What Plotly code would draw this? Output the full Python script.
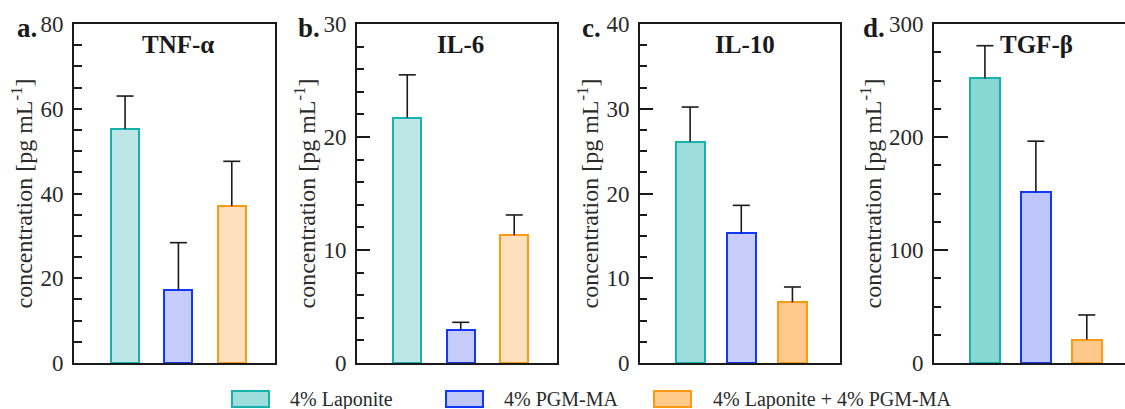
import plotly.graph_objects as go

# Cytokine release for three hydrogel formulations
groups = ["4% Laponite", "4% PGM-MA", "4% Laponite + 4% PGM-MA"]
cytokines = ["TNF-α", "IL-6", "IL-10", "TGF-β"]
panel_tags = ["a.", "b.", "c.", "d."]

tnf_mean = [55.2, 17.2, 37.0]
tnf_sd = [7.8, 11.2, 10.6]
il6_mean = [21.7, 2.95, 11.3]
il6_sd = [3.8, 0.65, 1.8]
il10_mean = [26.1, 15.35, 7.17]
il10_sd = [4.1, 3.25, 1.8]
tgf_mean = [251.8, 150.9, 20.7]
tgf_sd = [29.0, 45.4, 21.8]

means = [tnf_mean, il6_mean, il10_mean, tgf_mean]
sds = [tnf_sd, il6_sd, il10_sd, tgf_sd]

# axis scales
y_max = [80, 30, 40, 300]
y_major = [20, 10, 10, 100]
y_minor = [5, 2, 2.5, 25]

edge_colors = ["#17b2ad", "#1238ff", "#ff9914"]
fill_sets = [
    ["#bde6e6", "#c5ccf9", "#fee0bf"],
    ["#bde6e6", "#c5ccf9", "#fee0bf"],
    ["#9cdddb", "#c6cef9", "#fec98b"],
    ["#87d8d4", "#bdc7fa", "#fec98b"],
]
legend_fills = ["#9cdedc", "#c0c8f8", "#fecb8a"]

W, H = 1125, 409
FONT = "Liberation Serif"
INK = "#1a1a1a"

# panel geometry in pixels
x_dom_px = [(74, 275), (357, 557), (640, 840), (934, 1125)]
x_ranges = [(-0.957, 2.81), (-0.94, 2.80), (-0.98, 2.93), (-1.0, 2.75)]
bar_w = [0.525, 0.53, 0.57, 0.59]
y_top_px, y_bot_px = 24, 363
major_len = [8, 13, 13, 14]
minor_len = [8, 7, 7, 7]
title_cx = [178, 460, 745, 1036]
tag_x = [15, 296, 580, 861]

fig = go.Figure()
xpos = [0, 1, 2]

for p in range(4):
    sfx = "" if p == 0 else str(p + 1)
    xa, ya = "x" + sfx, "y" + sfx
    fig.add_trace(go.Bar(
        x=xpos, y=means[p], width=bar_w[p],
        marker=dict(color=fill_sets[p], line=dict(color=edge_colors, width=2)),
        xaxis=xa, yaxis=ya, showlegend=False,
    ))
    # upper error whiskers
    x0, x1 = x_ranges[p]
    px_per_unit = (x_dom_px[p][1] - x_dom_px[p][0]) / (x1 - x0)
    cap = 8.5 / px_per_unit
    ex, ey = [], []
    for i, (m, s) in enumerate(zip(means[p], sds[p])):
        ex += [i, i, None, i - cap, i + cap, None]
        ey += [m, m + s, None, m + s, m + s, None]
    fig.add_trace(go.Scatter(
        x=ex, y=ey, mode="lines", line=dict(color=INK, width=1.6),
        xaxis=xa, yaxis=ya, showlegend=False, hoverinfo="skip",
    ))

    dom_x = [x_dom_px[p][0] / W, x_dom_px[p][1] / W]
    dom_y = [1 - y_bot_px / H, 1 - y_top_px / H]
    fig.update_layout(**{
        "xaxis" + sfx: dict(
            domain=dom_x, range=list(x_ranges[p]), showticklabels=False,
            ticks="", showgrid=False, zeroline=False, showline=True,
            linecolor=INK, linewidth=1.6, mirror=True, anchor=ya,
            automargin=False,
        ),
        "yaxis" + sfx: dict(
            domain=dom_y, range=[0, y_max[p]], dtick=y_major[p], tick0=0,
            ticks="inside", ticklen=major_len[p], tickwidth=1.5, tickcolor=INK,
            minor=dict(dtick=y_minor[p], tick0=0, ticks="inside",
                       ticklen=minor_len[p], tickwidth=1.5, tickcolor=INK,
                       showgrid=False),
            showgrid=False, zeroline=False, showline=True, linecolor=INK,
            linewidth=1.6, mirror=(p < 3), anchor=xa, automargin=False,
            tickfont=dict(family=FONT, size=23, color="#2a2a2a"),
            ticklabelstandoff=4,
            title=dict(text="concentration [pg mL<sup>-1</sup>]",
                       font=dict(family=FONT, size=24, color="#2a2a2a"),
                       standoff=1),
        ),
    })

    fig.add_annotation(
        text="<b>%s</b>" % cytokines[p], x=title_cx[p] / W, y=1 - 44 / H,
        xref="paper", yref="paper", showarrow=False, xanchor="center",
        yanchor="middle", font=dict(family=FONT, size=25, color=INK),
    )
    fig.add_annotation(
        text="<b>%s</b>" % panel_tags[p], x=tag_x[p] / W, y=1 - 28 / H,
        xref="paper", yref="paper", showarrow=False, xanchor="left",
        yanchor="middle", font=dict(family=FONT, size=27, color=INK),
    )

# legend row below the panels
leg_box_x = [232, 446, 654]
leg_text_x = [288, 502, 711]
box_w, box_top, box_bot = 37, 391, 407
for k in range(3):
    fig.add_shape(
        type="rect", xref="paper", yref="paper",
        x0=leg_box_x[k] / W, x1=(leg_box_x[k] + box_w) / W,
        y0=1 - box_bot / H, y1=1 - box_top / H,
        fillcolor=legend_fills[k], line=dict(color=edge_colors[k], width=2),
    )
    fig.add_annotation(
        text=groups[k], x=leg_text_x[k] / W, y=1 - 399 / H,
        xref="paper", yref="paper", showarrow=False, xanchor="left",
        yanchor="middle", font=dict(family=FONT, size=20, color="#2a2a2a"),
    )

fig.update_layout(
    width=W, height=H, margin=dict(l=0, r=0, t=0, b=0),
    paper_bgcolor="white", plot_bgcolor="white", showlegend=False,
    bargap=0,
)

fig.write_html("out.html")
